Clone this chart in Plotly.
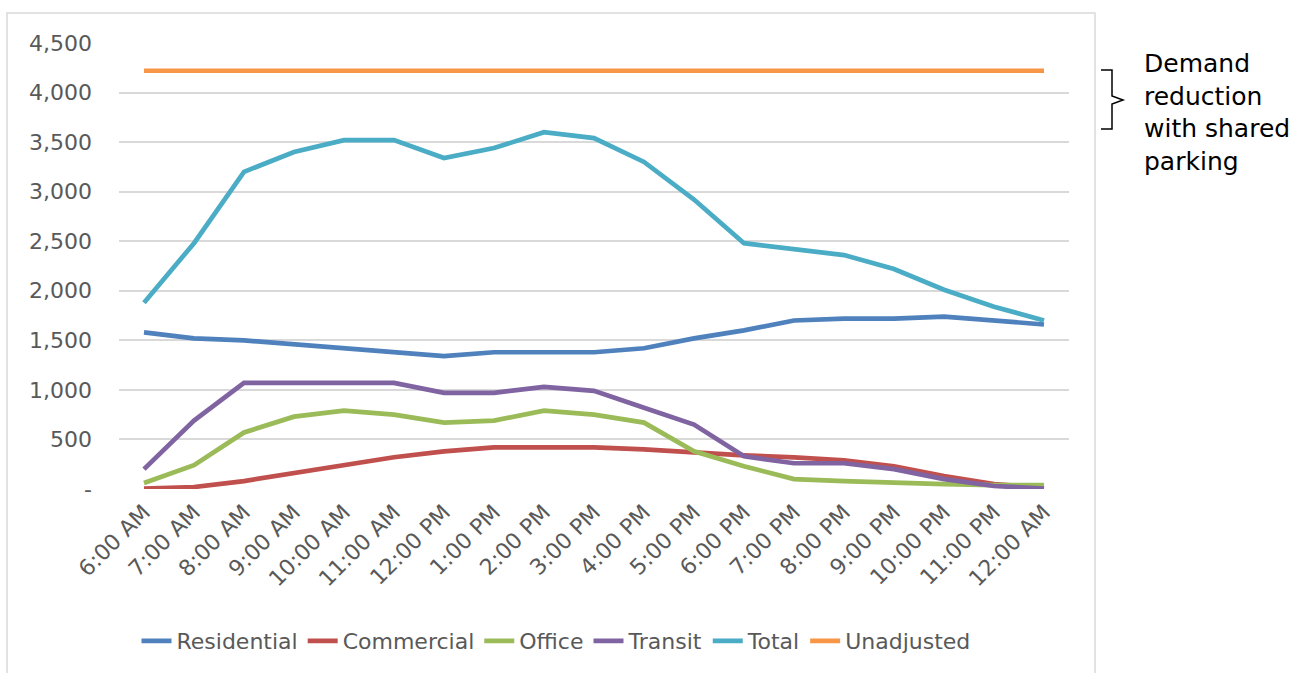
import plotly.graph_objects as go

# Hourly parking demand by land use
hours = ["6:00 AM", "7:00 AM", "8:00 AM", "9:00 AM", "10:00 AM", "11:00 AM",
         "12:00 PM", "1:00 PM", "2:00 PM", "3:00 PM", "4:00 PM", "5:00 PM",
         "6:00 PM", "7:00 PM", "8:00 PM", "9:00 PM", "10:00 PM", "11:00 PM",
         "12:00 AM"]

residential = [1580, 1520, 1500, 1460, 1420, 1380, 1340, 1380, 1380, 1380,
               1420, 1520, 1600, 1700, 1720, 1720, 1740, 1700, 1660]
commercial = [5, 20, 80, 160, 240, 320, 380, 420, 420, 420,
              400, 365, 340, 320, 290, 230, 130, 50, 10]
office = [60, 240, 570, 730, 790, 750, 670, 690, 790, 750,
          670, 380, 230, 100, 80, 60, 50, 40, 40]
transit = [200, 690, 1070, 1070, 1070, 1070, 970, 970, 1030, 990,
           820, 650, 330, 260, 260, 200, 100, 30, 5]
total = [1880, 2480, 3200, 3400, 3520, 3520, 3340, 3440, 3600, 3540,
         3300, 2920, 2480, 2420, 2360, 2220, 2010, 1840, 1700]
unadjusted = [4220] * len(hours)

y_ticks = [0, 500, 1000, 1500, 2000, 2500, 3000, 3500, 4000, 4500]
y_tick_text = ["-", "500", "1,000", "1,500", "2,000", "2,500", "3,000",
               "3,500", "4,000", "4,500"]

series = [
    ("Residential", residential, "#4F81BD"),
    ("Commercial", commercial, "#C0504D"),
    ("Office", office, "#9BBB59"),
    ("Transit", transit, "#8064A2"),
    ("Total", total, "#4BACC6"),
    ("Unadjusted", unadjusted, "#F79646"),
]

W, H = 1309, 673
L, R, T, B = 119, 240, 43, 184
plot_w = W - L - R
plot_h = H - T - B


def px_x(px):
    return (px - L) / plot_w


def px_y(py):
    return (H - B - py) / plot_h


FONT = "Century Gothic, DejaVu Sans, sans-serif"
GREY = "#595959"

fig = go.Figure()
for name, vals, color in series:
    fig.add_trace(go.Scatter(
        x=hours, y=vals, name=name, mode="lines",
        line=dict(color=color, width=4.7),
    ))

# chart-area border
fig.add_shape(type="rect", xref="paper", yref="paper",
              x0=px_x(7), x1=px_x(1095), y0=px_y(690), y1=px_y(13),
              line=dict(color="#d9d9d9", width=1.5), layer="below")

# bracket marking the reduction from shared parking
bx0, bx1, bx2 = px_x(1101), px_x(1112), px_x(1123)
by0, by1, by2 = px_y(70), px_y(100), px_y(129)
fig.add_shape(type="path", xref="paper", yref="paper",
              path=(f"M {bx0},{by0} L {bx1},{by0} L {bx1},{px_y(96)} "
                    f"L {bx2},{by1} L {bx1},{px_y(104)} L {bx1},{by2} L {bx0},{by2}"),
              line=dict(color="black", width=1.5))

fig.add_annotation(xref="paper", yref="paper", x=px_x(1142), y=px_y(47),
                   xanchor="left", yanchor="top", align="left", showarrow=False,
                   text="Demand<br>reduction<br>with shared<br>parking",
                   font=dict(family=FONT, size=25, color="black"))

fig.update_layout(
    width=W, height=H,
    margin=dict(l=L, r=R, t=T, b=B),
    paper_bgcolor="white", plot_bgcolor="white",
    font=dict(family=FONT, color=GREY),
    showlegend=True,
    legend=dict(orientation="h", xref="container", yref="container",
                x=556 / W, y=(H - 641) / H, xanchor="center", yanchor="middle",
                font=dict(family=FONT, size=22, color=GREY),
                itemwidth=30, tracegroupgap=0),
    xaxis=dict(type="category", range=[-0.5, len(hours) - 0.5],
               tickangle=-45, showgrid=False, zeroline=False, showline=False,
               ticks="", ticklabelstandoff=5,
               tickfont=dict(family=FONT, size=22, color=GREY)),
    yaxis=dict(range=[0, 4500], tickvals=y_ticks, ticktext=y_tick_text,
               showgrid=True, gridcolor="#d9d9d9", gridwidth=1.5,
               zeroline=False, showline=False, ticks="",
               ticklabelstandoff=26,
               tickfont=dict(family=FONT, size=22, color=GREY)),
)

fig.write_html("out.html")
